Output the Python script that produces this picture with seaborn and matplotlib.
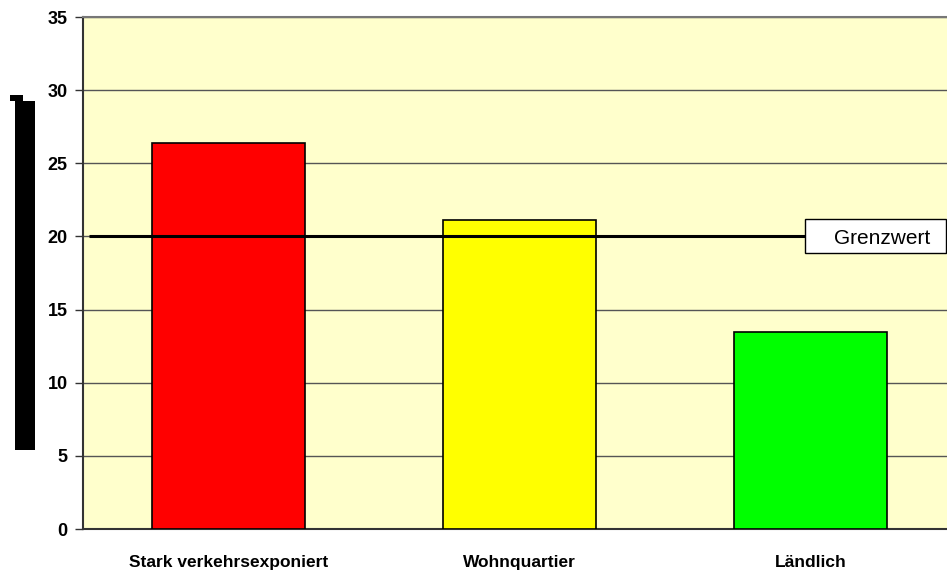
import matplotlib
matplotlib.use("Agg")
import matplotlib.pyplot as plt
from matplotlib.patches import Rectangle
import seaborn as sns
import pandas as pd

# Data
categories = ["Stark verkehrsexponiert", "Wohnquartier", "Ländlich"]
values = [26.4, 21.1, 13.5]
bar_colors = ["#ff0000", "#ffff00", "#00ff00"]
limit_value = 20
limit_label = "Grenzwert"
y_ticks = [0, 5, 10, 15, 20, 25, 30, 35]

sns.set_theme(style="white")
plt.rcParams["font.family"] = ["Liberation Sans", "DejaVu Sans"]
plt.rcParams["text.color"] = "black"
plt.rcParams["xtick.color"] = "black"
plt.rcParams["ytick.color"] = "black"

W, H = 947, 572
fig = plt.figure(figsize=(W / 100, H / 100), dpi=100)
fig.patch.set_facecolor("white")

# plot area in pixels: left 83, right 956 (runs past the figure edge), top 17, bottom 529
ax = fig.add_axes([83 / W, 1 - 529 / H, (956 - 83) / W, (529 - 17) / H])
ax.set_facecolor("#ffffcc")

df = pd.DataFrame({"Kategorie": categories, "Wert": values})
sns.barplot(data=df, x="Kategorie", y="Wert", hue="Kategorie",
            palette=bar_colors, saturation=1, width=0.525, edgecolor="black",
            linewidth=1.2, legend=False, ax=ax, zorder=3)

ax.set_xlim(-0.5, 2.5)
ax.set_ylim(0, 35)
ax.set_yticks(y_ticks)
ax.set_yticklabels([str(v) for v in y_ticks], fontsize=13, fontweight="bold")
ax.yaxis.grid(True, color="#555555", linewidth=1.0, zorder=0)
ax.set_axisbelow(True)

ax.set_xticks(range(len(categories)))
ax.set_xticklabels(categories, fontsize=12.5, fontweight="bold")
ax.set_xticks([0.5, 1.5], minor=True)
ax.tick_params(axis="x", which="major", length=0, pad=19)
ax.tick_params(axis="x", which="minor", length=5, width=1, color="#333333", direction="out")
ax.tick_params(axis="y", length=6, width=1, color="#333333", direction="out", pad=5, left=True)
ax.set_xlabel("")
ax.set_ylabel("")

for side in ["left", "bottom"]:
    ax.spines[side].set_color("#333333")
    ax.spines[side].set_linewidth(1.5)
ax.spines["top"].set_color("#777777")
ax.spines["top"].set_linewidth(1.5)
ax.spines["right"].set_visible(False)

# limit line with its label box
ax.hlines(limit_value, -0.48, 2.2, color="black", linewidth=2.2, zorder=4)
box_x0, box_x1 = 1.981, 2.466
box_y0, box_y1 = 18.87, 21.19
ax.add_patch(Rectangle((box_x0, box_y0), box_x1 - box_x0, box_y1 - box_y0,
                       facecolor="white", edgecolor="black", linewidth=1, zorder=5))
ax.text((box_x0 + box_x1) / 2 + 0.024, (box_y0 + box_y1) / 2 - 0.2, limit_label,
        ha="center", va="center", fontsize=15, zorder=6)

# black block on the left margin
fig.patches.append(Rectangle((15 / W, 1 - 450 / H), 20 / W, 349 / H,
                             transform=fig.transFigure, facecolor="black",
                             edgecolor="none"))
fig.patches.append(Rectangle((10 / W, 1 - 101 / H), 13 / W, 6 / H,
                             transform=fig.transFigure, facecolor="black",
                             edgecolor="none"))

fig.savefig("out.png", dpi=100)
